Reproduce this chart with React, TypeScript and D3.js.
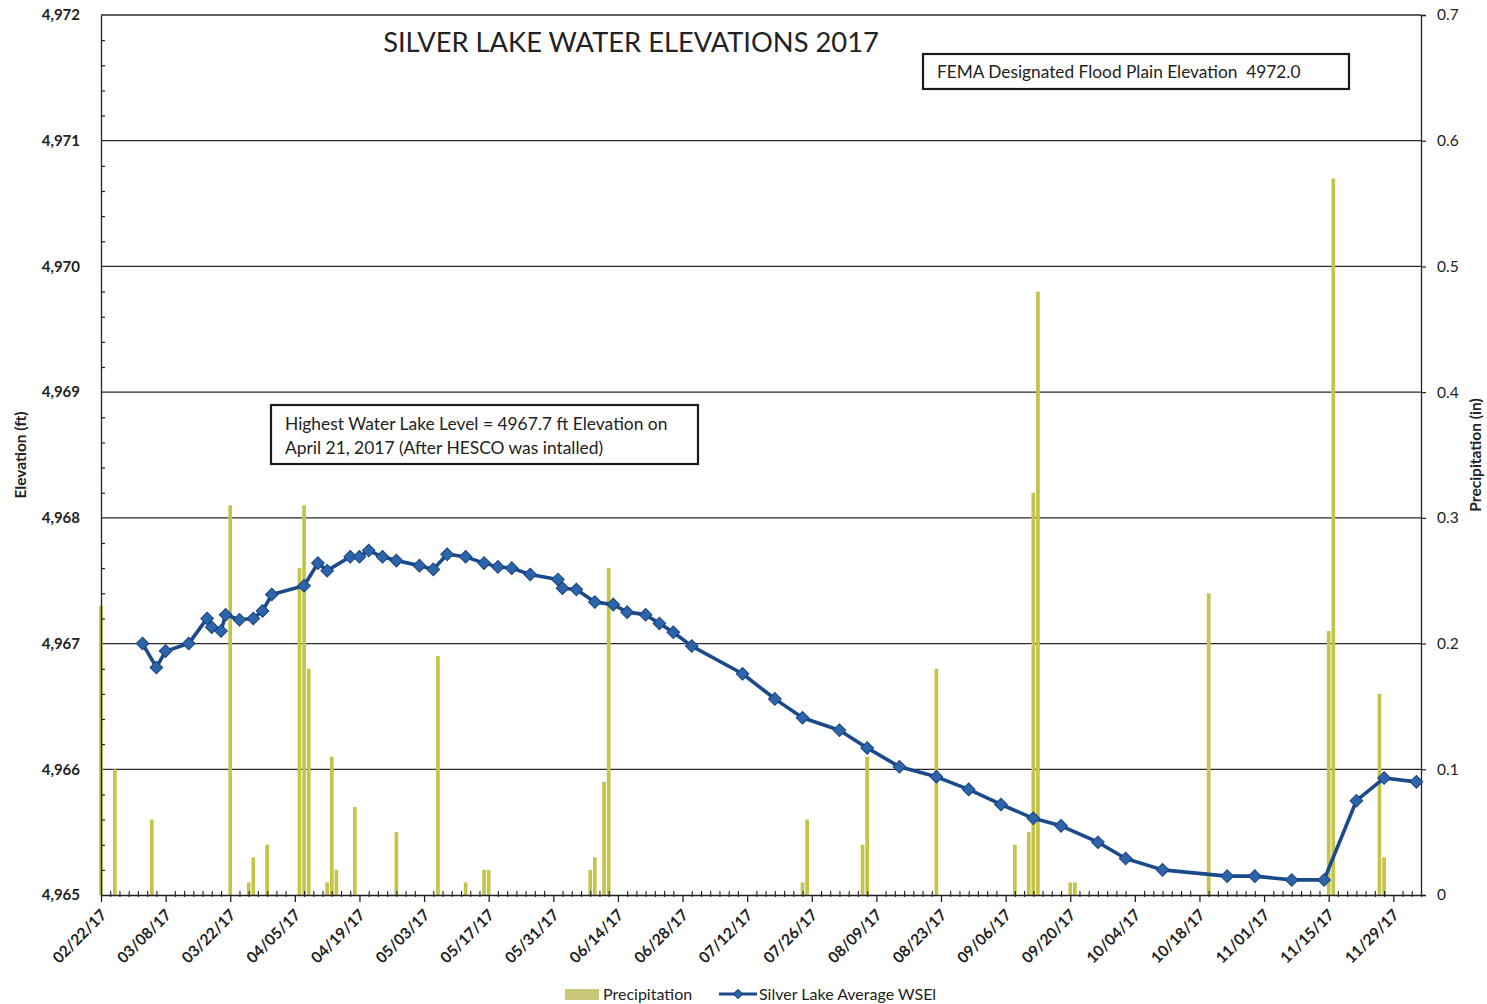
import { useEffect, useRef } from 'react';
import * as d3 from 'd3';

// Silver Lake average water surface elevation (ft)
const levelDates = [
  '03/03/17', '03/06/17', '03/08/17', '03/13/17', '03/17/17', '03/18/17', '03/20/17', '03/21/17',
  '03/24/17', '03/27/17', '03/29/17', '03/31/17', '04/07/17', '04/10/17', '04/12/17', '04/17/17',
  '04/19/17', '04/21/17', '04/24/17', '04/27/17', '05/02/17', '05/05/17', '05/08/17', '05/12/17',
  '05/16/17', '05/19/17', '05/22/17', '05/26/17', '06/01/17', '06/02/17', '06/05/17', '06/09/17',
  '06/13/17', '06/16/17', '06/20/17', '06/23/17', '06/26/17', '06/30/17', '07/11/17', '07/18/17',
  '07/24/17', '08/01/17', '08/07/17', '08/14/17', '08/22/17', '08/29/17', '09/05/17', '09/12/17',
  '09/18/17', '09/26/17', '10/02/17', '10/10/17', '10/24/17', '10/30/17', '11/07/17', '11/14/17',
  '11/21/17', '11/27/17', '12/04/17'
];
const levelValues = [
  4967.00, 4966.81, 4966.94, 4967.00, 4967.20, 4967.13, 4967.10, 4967.23,
  4967.19, 4967.20, 4967.26, 4967.39, 4967.46, 4967.64, 4967.58, 4967.69,
  4967.69, 4967.74, 4967.69, 4967.66, 4967.62, 4967.59, 4967.71, 4967.69,
  4967.64, 4967.61, 4967.60, 4967.55, 4967.51, 4967.44, 4967.43, 4967.33,
  4967.31, 4967.25, 4967.23, 4967.16, 4967.09, 4966.98, 4966.76, 4966.56,
  4966.41, 4966.31, 4966.17, 4966.02, 4965.94, 4965.84, 4965.72, 4965.61,
  4965.55, 4965.42, 4965.29, 4965.20, 4965.15, 4965.15, 4965.12, 4965.12,
  4965.75, 4965.93, 4965.90
];

// Daily precipitation (in)
const rainDates = [
  '02/22/17', '02/25/17', '03/05/17', '03/22/17', '03/26/17', '03/27/17', '03/30/17', '04/06/17',
  '04/07/17', '04/08/17', '04/12/17', '04/13/17', '04/14/17', '04/18/17', '04/27/17', '05/06/17',
  '05/12/17', '05/16/17', '05/17/17', '06/08/17', '06/09/17', '06/11/17', '06/12/17', '07/24/17',
  '07/25/17', '08/06/17', '08/07/17', '08/22/17', '09/08/17', '09/11/17', '09/12/17', '09/13/17',
  '09/20/17', '09/21/17', '10/20/17', '11/15/17', '11/16/17', '11/26/17', '11/27/17'
];
const rainValues = [
  0.23, 0.10, 0.06, 0.31, 0.01, 0.03, 0.04, 0.26,
  0.31, 0.18, 0.01, 0.11, 0.02, 0.07, 0.05, 0.19,
  0.01, 0.02, 0.02, 0.02, 0.03, 0.09, 0.26, 0.01,
  0.06, 0.04, 0.11, 0.18, 0.04, 0.05, 0.32, 0.48,
  0.01, 0.01, 0.24, 0.21, 0.57, 0.16, 0.03
];

const elevTicks = [4965, 4966, 4967, 4968, 4969, 4970, 4971, 4972];
const rainTicks = [0, 0.1, 0.2, 0.3, 0.4, 0.5, 0.6, 0.7];
const axisStart = '02/22/17';
const axisEnd = '12/05/17';

const FONT = 'Lato, "Open Sans", sans-serif';

export default function App() {
  const svgRef = useRef<SVGSVGElement>(null);

  useEffect(() => {
    const W = 1487;
    const H = 1004;
    const margin = { top: 15, right: 66, bottom: 109, left: 101 };
    const width = W - margin.left - margin.right;
    const height = H - margin.top - margin.bottom;
    const parse = d3.timeParse('%m/%d/%y');

    const svg = d3.select(svgRef.current);
    svg.selectAll('*').remove();

    const g = svg.append('g').attr('transform', `translate(${margin.left},${margin.top})`);

    const start = parse(axisStart) as Date;
    const end = parse(axisEnd) as Date;
    const x = d3.scaleTime().domain([start, end]).range([0, width]);
    const yL = d3.scaleLinear().domain([4965, 4972]).range([height, 0]);
    const yR = d3.scaleLinear().domain([0, 0.7]).range([height, 0]);

    // Grid lines
    g.append('g')
      .selectAll('line')
      .data(elevTicks.slice(1))
      .join('line')
      .attr('x1', 0)
      .attr('x2', width)
      .attr('y1', d => yL(d))
      .attr('y2', d => yL(d))
      .attr('stroke', '#2b2b2b')
      .attr('stroke-width', 1.3);

    // Precipitation bars
    const dayW = x(d3.timeDay.offset(start, 1)) - x(start);
    const barW = dayW * 0.8;
    g.append('g')
      .selectAll('rect')
      .data(rainDates.map((d, i) => ({ date: parse(d) as Date, value: rainValues[i] })))
      .join('rect')
      .attr('x', d => x(d.date) - barW / 2)
      .attr('width', barW)
      .attr('y', d => yR(d.value))
      .attr('height', d => height - yR(d.value))
      .attr('fill', '#c4c44a');

    // Left axis
    const leftAxis = g.append('g')
      .call(d3.axisLeft(yL).tickValues(elevTicks).tickFormat(d3.format(',')).tickSize(0).tickPadding(21));
    leftAxis.select('.domain').attr('stroke', '#222').attr('stroke-width', 1.3);
    leftAxis.selectAll('text')
      .attr('font-family', FONT).attr('font-size', 15).attr('font-weight', 'bold').attr('fill', '#222');

    // Left minor ticks (inside)
    const minorElev = d3.range(4965, 4972.001, 0.2).filter(v => Math.abs(v - Math.round(v)) > 0.01);
    const leftMinor = g.append('g')
      .call(d3.axisRight(yL).tickValues(minorElev).tickSize(4).tickFormat(() => ''));
    leftMinor.select('.domain').remove();
    leftMinor.selectAll('line').attr('stroke', '#222').attr('stroke-width', 1.2);

    // Right axis
    const rightAxis = g.append('g')
      .attr('transform', `translate(${width},0)`)
      .call(d3.axisRight(yR).tickValues(rainTicks).tickFormat(d3.format('.1~f')).tickSize(5).tickPadding(11));
    rightAxis.select('.domain').attr('stroke', '#222').attr('stroke-width', 1.3);
    rightAxis.selectAll('line').attr('stroke', '#222').attr('stroke-width', 1.2);
    rightAxis.selectAll('text')
      .attr('font-family', FONT).attr('font-size', 15.5).attr('fill', '#222');

    // Bottom axis, major ticks every 14 days
    const majorDates = d3.range(0, 281, 14).map(n => d3.timeDay.offset(start, n));
    const minorDates = d3.range(0, 287, 2).filter(n => n % 14 !== 0).map(n => d3.timeDay.offset(start, n));

    const minorAxis = g.append('g')
      .attr('transform', `translate(0,${height})`)
      .call(d3.axisTop(x).tickValues(minorDates).tickSize(4).tickFormat(() => ''));
    minorAxis.select('.domain').remove();
    minorAxis.selectAll('line').attr('stroke', '#222').attr('stroke-width', 1.1).attr('y2', -4).attr('y1', 2);

    const bottomAxis = g.append('g')
      .attr('transform', `translate(0,${height})`)
      .call(d3.axisBottom(x).tickValues(majorDates).tickFormat(d3.timeFormat('%m/%d/%y') as any).tickSize(7).tickSizeOuter(0));
    bottomAxis.select('.domain').attr('stroke', '#222').attr('stroke-width', 1.5);
    bottomAxis.selectAll('line').attr('stroke', '#222').attr('stroke-width', 1.3);
    bottomAxis.selectAll('text')
      .attr('x', 0).attr('y', 0).attr('dy', 0)
      .attr('text-anchor', 'end')
      .attr('transform', 'translate(6,21) rotate(-45)')
      .attr('font-family', FONT).attr('font-size', 15.5).attr('font-weight', 'bold').attr('fill', '#222');

    // Elevation line
    const levels = levelDates.map((d, i) => ({ date: parse(d) as Date, value: levelValues[i] }));
    const line = d3.line<{ date: Date; value: number }>()
      .x(d => x(d.date))
      .y(d => yL(d.value));
    g.append('path')
      .datum(levels)
      .attr('fill', 'none')
      .attr('stroke', '#1b4a8a')
      .attr('stroke-width', 3.6)
      .attr('stroke-linejoin', 'round')
      .attr('d', line);

    const diamond = d3.symbol().type(d3.symbolSquare).size(80);
    g.append('g')
      .selectAll('path')
      .data(levels)
      .join('path')
      .attr('d', diamond)
      .attr('transform', d => `translate(${x(d.date)},${yL(d.value)}) rotate(45)`)
      .attr('fill', '#2d65aa')
      .attr('stroke', '#1a4380')
      .attr('stroke-width', 1);

    // Axis titles
    svg.append('text')
      .attr('transform', `translate(26,${margin.top + height / 2}) rotate(-90)`)
      .attr('text-anchor', 'middle')
      .attr('font-family', FONT).attr('font-size', 15.5).attr('font-weight', 'bold').attr('fill', '#222')
      .text('Elevation (ft)');
    svg.append('text')
      .attr('transform', `translate(1481,${margin.top + height / 2}) rotate(-90)`)
      .attr('text-anchor', 'middle')
      .attr('font-family', FONT).attr('font-size', 15.5).attr('font-weight', 'bold').attr('fill', '#222')
      .text('Precipitation (in)');

    // Title
    svg.append('text')
      .attr('x', 631).attr('y', 52)
      .attr('text-anchor', 'middle')
      .attr('font-family', FONT).attr('font-size', 27.3).attr('fill', '#222')
      .text('SILVER LAKE WATER ELEVATIONS 2017');

    // FEMA note
    svg.append('rect')
      .attr('x', 923).attr('y', 54).attr('width', 426).attr('height', 35)
      .attr('fill', '#fff').attr('stroke', '#1a1a1a').attr('stroke-width', 2.2);
    svg.append('text')
      .attr('x', 937).attr('y', 78)
      .attr('font-family', FONT).attr('font-size', 17.3).attr('fill', '#222')
      .attr('xml:space', 'preserve')
      .text('FEMA Designated Flood Plain Elevation  4972.0');

    // Highest level note
    svg.append('rect')
      .attr('x', 271).attr('y', 405).attr('width', 427).attr('height', 59)
      .attr('fill', '#fff').attr('stroke', '#1a1a1a').attr('stroke-width', 2.2);
    const note = svg.append('text')
      .attr('font-family', FONT).attr('font-size', 17.4).attr('fill', '#222');
    note.append('tspan').attr('x', 285).attr('y', 430).text('Highest Water Lake Level = 4967.7 ft Elevation on');
    note.append('tspan').attr('x', 285).attr('y', 454).text('April 21, 2017 (After HESCO was intalled)');

    // Legend
    const lg = svg.append('g').attr('font-family', FONT).attr('font-size', 16).attr('fill', '#222');
    lg.append('rect').attr('x', 565).attr('y', 989).attr('width', 34).attr('height', 11).attr('fill', '#c9c87a');
    lg.append('text').attr('x', 603).attr('y', 1000).text('Precipitation');
    lg.append('line').attr('x1', 719).attr('x2', 757).attr('y1', 994).attr('y2', 994)
      .attr('stroke', '#1b4a8a').attr('stroke-width', 3);
    lg.append('path').attr('d', d3.symbol().type(d3.symbolSquare).size(40)).attr('transform', 'translate(738,994) rotate(45)')
      .attr('fill', '#2d65aa').attr('stroke', '#1a4380');
    lg.append('text').attr('x', 759).attr('y', 1000).text('Silver Lake Average WSEl');
  }, []);

  return (
    <div style={{ position: 'absolute', left: 0, top: 0, background: '#fff' }}>
      <svg ref={svgRef} width={1487} height={1004} style={{ display: 'block' }} />
    </div>
  );
}
